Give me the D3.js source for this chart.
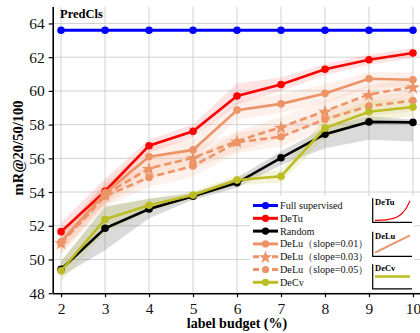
<!DOCTYPE html>
<html>
<head>
<meta charset="utf-8">
<script src="https://cdn.jsdelivr.net/npm/d3@7/dist/d3.min.js"></script>
<style>
  html, body { margin: 0; padding: 0; background: #fff; }
  svg { display: block; }
  text { font-family: "Liberation Serif", "Times New Roman", serif; }
</style>
</head>
<body>
<svg id="chart" width="420" height="333"></svg>
<script>
// label budget (%) on the x axis
const budgets = [2, 3, 4, 5, 6, 7, 8, 9, 10];
const yTicks = [48, 50, 52, 54, 56, 58, 60, 62, 64];

// mR@20/50/100 per method
const fullSup  = [63.6, 63.6, 63.6, 63.6, 63.6, 63.6, 63.6, 63.6, 63.6];
const deTu     = [51.65, 54.05, 56.75, 57.6, 59.7, 60.38, 61.28, 61.85, 62.25];
const deTuLo   = [51.1, 53.3, 56.35, 57.2, 59.2, 60.0, 60.95, 61.55, 61.95];
const deTuHi   = [52.2, 54.8, 57.1, 58.0, 60.45, 60.8, 61.6, 62.15, 62.55];
const random   = [49.42, 51.85, 52.99, 53.75, 54.55, 56.03, 57.43, 58.16, 58.13];
const randomLo = [49.0, 50.55, 52.45, 53.55, 54.25, 55.6, 56.6, 57.1, 57.0];
const randomHi = [49.9, 53.15, 53.6, 53.95, 54.85, 56.4, 57.85, 58.5, 58.3];
const deLu1    = [51.05, 53.95, 56.1, 56.5, 58.86, 59.23, 59.85, 60.72, 60.66];
const deLu1Lo  = [50.5, 53.3, 55.5, 55.9, 58.3, 58.7, 59.3, 60.2, 60.2];
const deLu1Hi  = [51.6, 54.6, 56.7, 57.1, 59.4, 59.8, 60.4, 61.1, 61.1];
const deLu3    = [51.0, 53.85, 55.4, 56.03, 57.02, 57.85, 58.8, 59.79, 60.24];
const deLu3Lo  = [50.4, 53.2, 54.8, 55.4, 56.4, 57.2, 58.2, 59.2, 59.6];
const deLu3Hi  = [51.6, 54.5, 56.0, 56.6, 57.6, 58.5, 59.4, 60.3, 60.8];
const deLu5    = [50.95, 53.75, 54.87, 55.55, 56.95, 57.28, 58.31, 59.1, 59.43];
const deLu5Lo  = [50.3, 53.1, 54.3, 54.9, 56.3, 56.7, 57.7, 58.5, 58.8];
const deLu5Hi  = [51.6, 54.4, 55.5, 56.1, 57.5, 57.9, 58.9, 59.7, 60.0];
const deCv     = [49.33, 52.38, 53.22, 53.82, 54.71, 54.93, 57.79, 58.76, 59.04];
const deCvLo   = [48.7, 51.6, 52.85, 53.6, 54.4, 54.55, 57.2, 58.2, 58.5];
const deCvHi   = [49.9, 53.1, 53.6, 54.05, 55.0, 55.3, 58.4, 59.4, 59.6];

// schedule sketches shown next to the legend (normalised 0..1)
const tuSketchX = [0, 0.2, 0.4, 0.55, 0.7, 0.8, 0.9, 1.0];
const tuSketchY = [0.02, 0.03, 0.07, 0.13, 0.25, 0.4, 0.62, 0.95];
const luSketchX = [0, 1];
const luSketchY = [0.1, 0.9];
const cvSketchX = [0, 1];
const cvSketchY = [0.5, 0.5];

const RED = "#ff0000", BLUE = "#0000ff", BLACK = "#000000";
const SALMON = "#ec9467", OLIVE = "#bcbd22";

const series = [
  { name: "Full supervised", values: fullSup, color: BLUE, dash: null, marker: "circle", width: 3 },
  { name: "DeTu", values: deTu, lo: deTuLo, hi: deTuHi, color: RED, band: "#ff5a5a", bandOp: 0.17, dash: null, marker: "circle", width: 2.6 },
  { name: "Random", values: random, lo: randomLo, hi: randomHi, color: BLACK, band: "#7a7a7a", bandOp: 0.28, dash: null, marker: "circle", width: 2.6 },
  { name: "DeLu（slope=0.01）", values: deLu1, lo: deLu1Lo, hi: deLu1Hi, color: SALMON, band: "#f2a07a", bandOp: 0.17, dash: null, marker: "circle", width: 2.6 },
  { name: "DeLu（slope=0.03）", values: deLu3, lo: deLu3Lo, hi: deLu3Hi, color: SALMON, band: "#f2a07a", bandOp: 0.15, dash: "7,4", marker: "star", width: 2.6 },
  { name: "DeLu（slope=0.05）", values: deLu5, lo: deLu5Lo, hi: deLu5Hi, color: SALMON, band: "#f2a07a", bandOp: 0.15, dash: "7,4", marker: "circle", width: 2.6 },
  { name: "DeCv", values: deCv, lo: deCvLo, hi: deCvHi, color: OLIVE, band: "#c8c84a", bandOp: 0.2, dash: null, marker: "circle", width: 2.6 }
];

const svg = d3.select("#chart");
const x = d3.scaleLinear().domain([1.81, 10.16]).range([52.7, 420]);
const y = d3.scaleLinear().domain([48, 65]).range([293.2, 6.6]);

// grid
svg.append("g").selectAll("line.v").data(budgets).join("line")
  .attr("x1", d => x(d)).attr("x2", d => x(d))
  .attr("y1", y(65)).attr("y2", y(48))
  .attr("stroke", "#d2d2d2").attr("stroke-width", 1);
svg.append("g").selectAll("line.h").data(yTicks).join("line")
  .attr("x1", x(1.81)).attr("x2", x(10.16))
  .attr("y1", d => y(d)).attr("y2", d => y(d))
  .attr("stroke", "#d2d2d2").attr("stroke-width", 1);

// confidence bands
const area = d3.area()
  .x((d, i) => x(budgets[i]))
  .y0(d => y(d[0])).y1(d => y(d[1]));
series.filter(s => s.lo).forEach(s => {
  svg.append("path")
    .datum(s.lo.map((v, i) => [v, s.hi[i]]))
    .attr("d", area)
    .attr("fill", s.band).attr("fill-opacity", s.bandOp).attr("stroke", "none");
});

// lines and markers
const line = d3.line().x((d, i) => x(budgets[i])).y(d => y(d));
const star = d3.symbol().type(d3.symbolStar);
function drawMarker(g, type, cx, cy, color, scale) {
  if (type === "star") {
    g.append("path").attr("d", star.size(62 * scale * scale)())
      .attr("transform", `translate(${cx},${cy + 0.8 * scale})`).attr("fill", color);
  } else {
    g.append("circle").attr("cx", cx).attr("cy", cy).attr("r", 3.8 * scale).attr("fill", color);
  }
}
series.forEach(s => {
  const g = svg.append("g");
  g.append("path").datum(s.values).attr("d", line)
    .attr("fill", "none").attr("stroke", s.color).attr("stroke-width", s.width)
    .attr("stroke-dasharray", s.dash);
  s.values.forEach((v, i) => drawMarker(g, s.marker, x(budgets[i]), y(v), s.color, 1));
});

// axes
const yAxis = svg.append("g").attr("transform", `translate(${x(1.81)},0)`)
  .call(d3.axisLeft(y).tickValues(yTicks).tickFormat(d3.format("d")).tickSize(4).tickSizeOuter(0).tickPadding(4));
const xAxis = svg.append("g").attr("transform", `translate(0,${y(48)})`)
  .call(d3.axisBottom(x).tickValues(budgets).tickFormat(d3.format("d")).tickSize(4).tickSizeOuter(0).tickPadding(6));
[yAxis, xAxis].forEach(a => {
  a.select(".domain").attr("stroke", "#000").attr("stroke-width", 1.6);
  a.selectAll(".tick line").attr("stroke", "#000").attr("stroke-width", 1.2);
  a.selectAll(".tick text").attr("fill", "#111").style("font-size", "15.5px")
    .style("font-family", '"Liberation Serif", serif');
});

// titles
svg.append("text").attr("x", 60).attr("y", 17.5)
  .attr("font-weight", "bold").attr("font-size", 12.5).text("PredCls");
svg.append("text").attr("transform", "translate(23,148) rotate(-90)")
  .attr("text-anchor", "middle").attr("font-weight", "bold").attr("font-size", 14.5)
  .text("mR@20/50/100");
svg.append("text").attr("x", 237).attr("y", 328)
  .attr("text-anchor", "middle").attr("font-weight", "bold").attr("font-size", 14)
  .text("label budget (%)");

// legend
const leg = svg.append("g");
leg.append("rect").attr("x", 250).attr("y", 196).attr("width", 164).attr("height", 95).attr("fill", "#fff");
series.forEach((s, i) => {
  const ly = 205.5 + i * 12.8;
  leg.append("line").attr("x1", 253).attr("x2", 278).attr("y1", ly).attr("y2", ly)
    .attr("stroke", s.color).attr("stroke-width", 3).attr("stroke-dasharray", s.dash ? "6,3.5" : null);
  drawMarker(leg, s.marker, 265.5, ly, s.color, 0.95);
  leg.append("text").attr("x", 280).attr("y", ly).attr("dy", "0.35em")
    .attr("font-size", 10.2).attr("fill", "#111").text(s.name);
});

// small schedule sketches
const sketches = [
  { title: "DeTu", xs: tuSketchX, ys: tuSketchY, color: RED, width: 1.2, top: 198.3, bottom: 222.3, curve: d3.curveMonotoneX },
  { title: "DeLu", xs: luSketchX, ys: luSketchY, color: SALMON, width: 2, top: 231.7, bottom: 256.3, curve: d3.curveLinear },
  { title: "DeCv", xs: cvSketchX, ys: cvSketchY, color: OLIVE, width: 2.4, top: 264.2, bottom: 288.8, curve: d3.curveLinear }
];
sketches.forEach(sk => {
  const g = svg.append("g");
  const sx = d3.scaleLinear().domain([0, 1]).range([375, 410]);
  const sy = d3.scaleLinear().domain([0, 1]).range([sk.bottom - 1.5, sk.top + 1.5]);
  g.append("path").datum(sk.xs.map((v, i) => [v, sk.ys[i]]))
    .attr("d", d3.line().x(d => sx(d[0])).y(d => sy(d[1])).curve(sk.curve))
    .attr("fill", "none").attr("stroke", sk.color).attr("stroke-width", sk.width);
  g.append("path")
    .attr("d", `M372.7,${sk.top}V${sk.bottom}H412`)
    .attr("fill", "none").attr("stroke", "#000").attr("stroke-width", 1.2);
  g.append("text").attr("x", 375).attr("y", sk.top + 7)
    .attr("font-weight", "bold").attr("font-size", 8.5).text(sk.title);
});
</script>
</body>
</html>
